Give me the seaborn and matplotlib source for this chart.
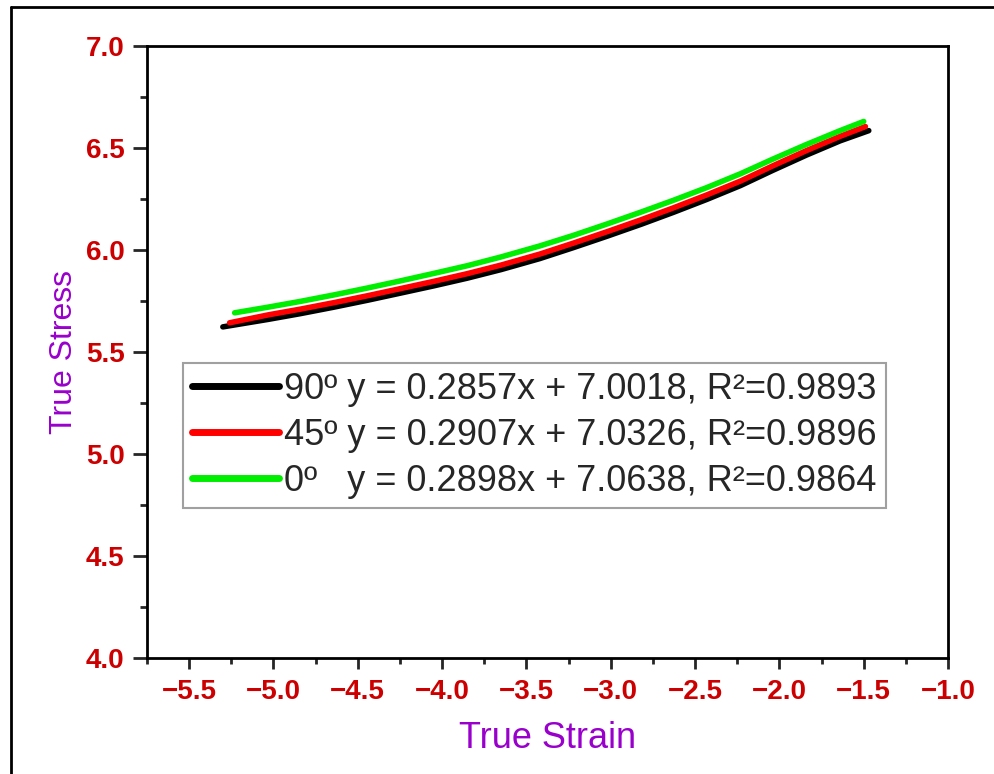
import matplotlib
matplotlib.use("Agg")
import matplotlib.pyplot as plt
import seaborn as sns
import pandas as pd
from matplotlib.ticker import MultipleLocator
from matplotlib.lines import Line2D

# ---- data ----
x_90 = [-5.30, -5.03, -4.84, -4.64, -4.44, -4.25, -4.05, -3.85, -3.65, -3.42,
        -3.22, -3.02, -2.82, -2.63, -2.43, -2.23, -2.04, -1.84, -1.64, -1.47]
y_90 = [5.623, 5.660, 5.688, 5.720, 5.754, 5.788, 5.824, 5.862, 5.904, 5.958,
        6.012, 6.068, 6.126, 6.184, 6.248, 6.316, 6.390, 6.465, 6.535, 6.585]
x_45 = [-5.26, -5.03, -4.84, -4.64, -4.44, -4.25, -4.05, -3.85, -3.65, -3.42,
        -3.22, -3.02, -2.82, -2.63, -2.43, -2.23, -2.04, -1.84, -1.64, -1.49]
y_45 = [5.643, 5.682, 5.710, 5.742, 5.776, 5.810, 5.846, 5.884, 5.926, 5.980,
        6.034, 6.090, 6.148, 6.206, 6.270, 6.338, 6.412, 6.487, 6.557, 6.605]
x_0 = [-5.23, -5.03, -4.84, -4.64, -4.44, -4.25, -4.05, -3.85, -3.65, -3.42,
       -3.22, -3.02, -2.82, -2.63, -2.43, -2.23, -2.04, -1.84, -1.64, -1.50]
y_0 = [5.692, 5.720, 5.748, 5.780, 5.814, 5.848, 5.885, 5.923, 5.966, 6.020,
       6.072, 6.128, 6.186, 6.243, 6.306, 6.374, 6.445, 6.517, 6.585, 6.630]

labels = ["90º y = 0.2857x + 7.0018, R²=0.9893",
          "45º y = 0.2907x + 7.0326, R²=0.9896",
          "0º   y = 0.2898x + 7.0638, R²=0.9864"]
colors = ["#000000", "#ff0000", "#00ee00"]

x_label = "True Strain"
y_label = "True Stress"
x_ticks = [-5.5, -5.0, -4.5, -4.0, -3.5, -3.0, -2.5, -2.0, -1.5, -1.0]
y_ticks = [4.0, 4.5, 5.0, 5.5, 6.0, 6.5, 7.0]

sns.set_style("white")
plt.rcParams['font.family'] = ['Liberation Sans', 'DejaVu Sans']

fig = plt.figure(figsize=(9.95, 7.74), dpi=100)
ax = fig.add_axes([0.1477, 0.1499, 0.8051, 0.7907])

for xs, ys, lab, col in zip([x_90, x_45, x_0], [y_90, y_45, y_0], labels, colors):
    df = pd.DataFrame({"x": xs, "y": ys})
    sns.lineplot(data=df, x="x", y="y", ax=ax, color=col, lw=4, label=lab,
                 sort=False, solid_capstyle="round", solid_joinstyle="round")

ax.set_xlim(-5.75, -1.0)
ax.set_ylim(4.0, 7.0)
ax.set_xticks(x_ticks)
ax.set_yticks(y_ticks)
ax.set_xticklabels([f"{t:.1f}".replace("-", "\u2212") for t in x_ticks])
ax.set_yticklabels([f"{t:.1f}" for t in y_ticks])
ax.xaxis.set_minor_locator(MultipleLocator(0.25))
ax.yaxis.set_minor_locator(MultipleLocator(0.25))
ax.tick_params(axis="both", which="both", direction="out", width=2,
               bottom=True, left=True, top=False, right=False)
ax.tick_params(axis="x", which="major", length=8, labelsize=20,
               labelcolor="#cc0000", pad=7)
ax.tick_params(axis="y", which="major", length=10, labelsize=20,
               labelcolor="#cc0000", pad=6)
ax.tick_params(axis="x", which="minor", length=4)
ax.tick_params(axis="y", which="minor", length=5)
for lab in ax.get_xticklabels() + ax.get_yticklabels():
    lab.set_fontweight("bold")
for sp in ax.spines.values():
    sp.set_color("black")
    sp.set_linewidth(2)

ax.set_xlabel(x_label, fontsize=26, color="#9900cc", labelpad=12)
ax.set_ylabel(y_label, fontsize=23, color="#9900cc", labelpad=5)

leg = ax.legend(loc="upper left", bbox_to_anchor=(0.045, 0.482), fontsize=26,
                frameon=True, fancybox=False, edgecolor="#888888",
                handlelength=2.4, handletextpad=0.15, borderpad=0.25,
                labelspacing=0.3, borderaxespad=0, handleheight=0.7)
leg.get_frame().set_linewidth(1.5)
for line in leg.get_lines():
    line.set_linewidth(5)

fig.add_artist(Line2D([0.011, 0.011], [0.991, 0.0], transform=fig.transFigure,
                      color="black", lw=2))
fig.add_artist(Line2D([0.011, 1.0], [0.991, 0.991], transform=fig.transFigure,
                      color="black", lw=2))

fig.savefig("out.png", dpi=100)
